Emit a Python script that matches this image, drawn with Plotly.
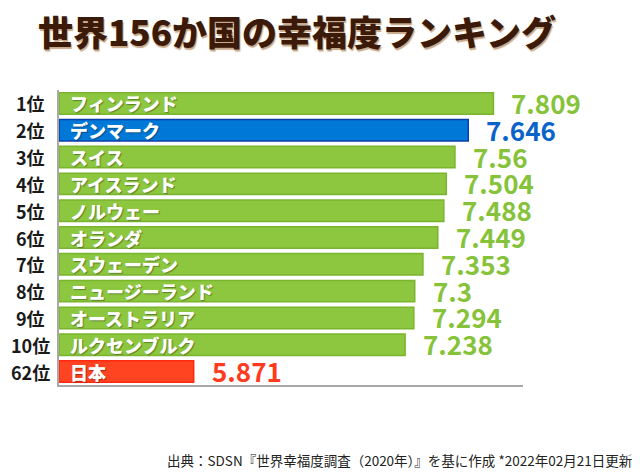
import plotly.graph_objects as go

ranks = ["1位", "2位", "3位", "4位", "5位", "6位", "7位", "8位", "9位", "10位", "62位"]
countries = ["フィンランド", "デンマーク", "スイス", "アイスランド", "ノルウェー", "オランダ",
             "スウェーデン", "ニュージーランド", "オーストラリア", "ルクセンブルク", "日本"]
scores = [7.809, 7.646, 7.56, 7.504, 7.488, 7.449, 7.353, 7.3, 7.294, 7.238, 5.871]
score_labels = ["7.809", "7.646", "7.56", "7.504", "7.488", "7.449", "7.353", "7.3", "7.294", "7.238", "5.871"]

GREEN, GREEN_LINE, GREEN_TXT = "#8dc63f", "#7ab52e", "#86c33a"
BLUE, BLUE_LINE, BLUE_TXT = "#0078d7", "#0a3fa8", "#0a63c8"
RED, RED_LINE, RED_TXT = "#ff4422", "#ff2a10", "#ff3b1f"

fills = [BLUE if c == "デンマーク" else RED if c == "日本" else GREEN for c in countries]
lines = [BLUE_LINE if c == "デンマーク" else RED_LINE if c == "日本" else GREEN_LINE for c in countries]
txtc = [BLUE_TXT if c == "デンマーク" else RED_TXT if c == "日本" else GREEN_TXT for c in countries]

FONT = "Noto Sans CJK JP"
XMIN, XMAX = 5.0, 8.0

L, R, T, B = 59, 117, 90, 90
W, H = 640, 475
pw, ph = W - L - R, H - T - B

def px_x(x):
    return (x - L) / pw

def px_y(y):
    return (H - B - y) / ph

fig = go.Figure(go.Bar(
    x=[s - XMIN for s in scores], base=XMIN, y=ranks, orientation="h",
    marker=dict(color=fills, line=dict(color=lines, width=1.5)),
    width=0.8, hoverinfo="skip",
))

ann = []
for r, c, s, lab, col in zip(ranks, countries, scores, score_labels, txtc):
    ann.append(dict(x=px_x(30), y=r, xref="paper", yref="y", text=r, showarrow=False,
                    xanchor="center", yanchor="middle",
                    font=dict(family=FONT, size=18, color="#1a1a1a", weight="bold")))
    ann.append(dict(x=XMIN, y=r, xref="x", yref="y", text=c, showarrow=False,
                    xanchor="left", yanchor="middle", xshift=9,
                    font=dict(family=FONT, size=18, color="white", weight=900,
                              shadow="1px 1px 1px rgba(0,0,0,0.35)")))
    ann.append(dict(x=s, y=r, xref="x", yref="y", text=lab, showarrow=False,
                    xanchor="left", yanchor="middle", xshift=16, yshift=1,
                    font=dict(family=FONT, size=26, color=col, weight="bold")))

ann.append(dict(x=px_x(36), y=px_y(30), xref="paper", yref="paper",
                text="世界156か国の幸福度ランキング",
                showarrow=False, xanchor="left", yanchor="middle",
                font=dict(family=FONT, size=35, color="#3b1a0a", weight=900,
                          shadow="1px 2px 1px rgba(160,110,60,0.6)")))
ann.append(dict(x=px_x(634), y=px_y(460), xref="paper", yref="paper",
                text="出典：SDSN『世界幸福度調査（2020年）』を基に作成 *2022年02月21日更新",
                showarrow=False, xanchor="right", yanchor="middle",
                font=dict(family=FONT, size=13.5, color="#222222")))

fig.update_layout(
    width=W, height=H, margin=dict(l=L, r=R, t=T, b=B, autoexpand=False),
    paper_bgcolor="white", plot_bgcolor="white", showlegend=False,
    annotations=ann, bargap=0.2,
    xaxis=dict(range=[XMIN, XMAX], showgrid=False, zeroline=False, showticklabels=False,
               showline=True, linecolor="#a8a8a8", linewidth=2, ticks="", fixedrange=True),
    yaxis=dict(range=[len(ranks) - 0.5, -0.5], showgrid=False, zeroline=False, showline=True,
               automargin=False, showticklabels=False, fixedrange=True,
               linecolor="#a8a8a8", linewidth=2, ticks=""),
)

fig.write_html("out.html", config={"displayModeBar": False},
               post_script="document.body.style.margin='0';document.body.style.overflow='hidden';")
